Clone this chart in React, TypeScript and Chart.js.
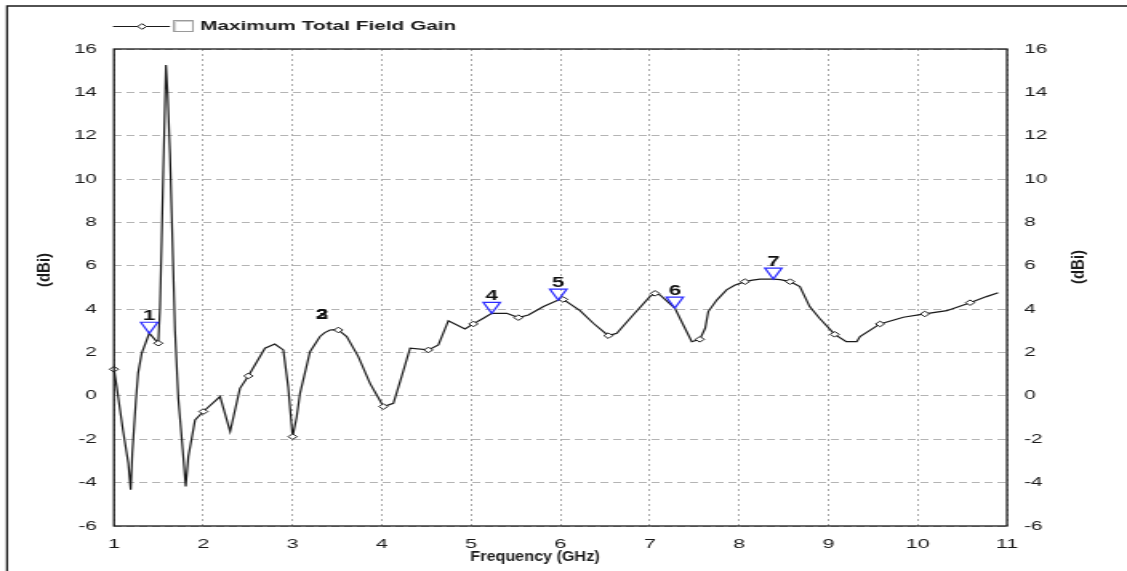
import React, { useEffect, useRef } from 'react';
import { Chart, registerables } from 'chart.js';

Chart.register(...registerables);

// ---- data ----
const freqGHz = [
  1.0, 1.03, 1.10, 1.16, 1.187, 1.205, 1.246, 1.27, 1.31, 1.395,
  1.496, 1.515, 1.534, 1.552, 1.582, 1.601, 1.627, 1.646, 1.683, 1.72,
  1.77, 1.803, 1.832, 1.907, 2.0, 2.187, 2.30, 2.41, 2.504, 2.69,
  2.80, 2.896, 2.95, 3.0, 3.046, 3.083, 3.195, 3.307, 3.36, 3.42,
  3.47, 3.512, 3.606, 3.736, 3.867, 4.016, 4.128, 4.22, 4.315, 4.52,
  4.632, 4.744, 4.93, 5.024, 5.136, 5.23, 5.398, 5.528, 5.64, 5.81,
  5.975, 6.03, 6.218, 6.367, 6.535, 6.63, 6.815, 7.0, 7.058, 7.114,
  7.28, 7.375, 7.47, 7.56, 7.62, 7.655, 7.75, 7.86, 7.95, 8.066,
  8.15, 8.234, 8.383, 8.46, 8.57, 8.68, 8.79, 8.9, 9.07, 9.2,
  9.317, 9.354, 9.578, 9.84, 10.08, 10.325, 10.586, 10.77, 10.9,
];
const gainDBi = [
  1.23, 0.43, -1.57, -3.1, -4.33, -2.64, -0.18, 1.05, 1.96, 2.89,
  2.43, 4.04, 7.19, 10.4, 15.26, 13.88, 11.19, 8.42, 3.04, -0.11,
  -2.49, -4.18, -2.8, -1.11, -0.72, -0.03, -1.64, 0.35, 0.92, 2.2,
  2.39, 2.12, 0.43, -1.88, -0.96, 0.12, 2.04, 2.74, 2.92, 3.04,
  3.06, 3.04, 2.74, 1.81, 0.58, -0.49, -0.34, 0.89, 2.2, 2.12,
  2.35, 3.47, 3.09, 3.32, 3.58, 3.81, 3.81, 3.61, 3.73, 4.12,
  4.42, 4.45, 3.93, 3.35, 2.78, 2.89, 3.74, 4.58, 4.73, 4.66,
  4.05, 3.27, 2.5, 2.61, 3.12, 3.89, 4.42, 4.89, 5.1, 5.27,
  5.34, 5.39, 5.39, 5.36, 5.27, 5.04, 4.12, 3.58, 2.84, 2.5,
  2.5, 2.74, 3.32, 3.63, 3.78, 3.93, 4.3, 4.58, 4.76,
];

const diamondFreq = [1.0, 1.496, 2.0, 2.504, 3.0, 3.512, 4.016, 4.52, 5.024, 5.528, 6.03, 6.535, 7.058, 7.56, 8.066, 8.57, 9.07, 9.578, 10.08, 10.586];
const diamondGain = [1.23, 2.43, -0.72, 0.92, -1.88, 3.04, -0.49, 2.12, 3.32, 3.61, 4.45, 2.78, 4.73, 2.61, 5.27, 5.27, 2.84, 3.32, 3.78, 4.3];

const markerLabels = ['1', '2', '3', '4', '5', '6', '7'];
const markerFreq = [1.395, 3.33, 3.33, 5.23, 5.975, 7.28, 8.383];
const markerGain = [2.89, 2.95, 2.95, 3.81, 4.42, 4.05, 5.39];
const markerShown = [true, false, false, true, true, true, true];

const seriesName = 'Maximum Total Field Gain';
const xTitle = 'Frequency (GHz)';
const yTitle = '(dBi)';
const xMin = 1, xMax = 11, xStep = 1;
const yMin = -6, yMax = 16, yStep = 2;

// ---- layout (the reference is horizontally stretched) ----
const SCREEN_W = 1127;
const H = 571;
const W = 704;
const SX = SCREEN_W / W;
const px = (sx: number) => sx / SX;
const FONT = '"Liberation Sans", Arial, sans-serif';

export default function App() {
  const ref = useRef<HTMLCanvasElement>(null);

  useEffect(() => {
    const canvas = ref.current;
    if (!canvas) return;

    const overlay = {
      id: 'overlay',
      afterDatasetsDraw(chart: any) {
        const ctx = chart.ctx;
        const xs = chart.scales.x;
        const ys = chart.scales.y;
        const meta = chart.getDatasetMeta(0);
        markerFreq.forEach((f, i) => {
          const x = xs.getPixelForValue(f);
          const y = ys.getPixelForValue(markerGain[i]);
          const hw = px(17) / 2;
          const h = 11;
          const tri = () => {
            ctx.beginPath();
            ctx.moveTo(x - hw, y - h);
            ctx.lineTo(x + hw, y - h);
            ctx.lineTo(x, y);
            ctx.closePath();
          };
          if (markerShown[i]) {
            ctx.save();
            tri();
            ctx.clip();
            ctx.beginPath();
            meta.data.forEach((p: any, j: number) => (j ? ctx.lineTo(p.x, p.y) : ctx.moveTo(p.x, p.y)));
            ctx.strokeStyle = '#e6d21e';
            ctx.setLineDash([1.5, 1.5]);
            ctx.lineWidth = 1.4;
            ctx.stroke();
            ctx.restore();
            ctx.save();
            tri();
            ctx.strokeStyle = '#2b2bff';
            ctx.lineWidth = 1.2;
            ctx.stroke();
            ctx.restore();
          }
          ctx.save();
          ctx.font = `bold 14px ${FONT}`;
          ctx.textAlign = 'center';
          ctx.textBaseline = 'alphabetic';
          ctx.fillStyle = '#111';
          ctx.fillText(markerLabels[i], x, y - 13);
          ctx.restore();
        });
      },
      afterDraw(chart: any) {
        const ctx = chart.ctx;
        const a = chart.chartArea;
        ctx.save();
        // plot frame
        ctx.strokeStyle = '#1a1a1a';
        ctx.lineWidth = 1.3;
        ctx.strokeRect(a.left, a.top, a.right - a.left, a.bottom - a.top);
        // outer frame (top and left)
        ctx.lineWidth = 1.3;
        ctx.beginPath();
        ctx.moveTo(px(7), H);
        ctx.lineTo(px(7), 6);
        ctx.lineTo(W, 6);
        ctx.stroke();

        // legend
        ctx.strokeStyle = '#1a1a1a';
        ctx.lineWidth = 1;
        ctx.beginPath();
        ctx.moveTo(px(113), 26.5);
        ctx.lineTo(px(170), 26.5);
        ctx.stroke();
        const dx = px(142), dy = 26.5, r = 2.8;
        ctx.beginPath();
        ctx.moveTo(dx - r, dy);
        ctx.lineTo(dx, dy - r);
        ctx.lineTo(dx + r, dy);
        ctx.lineTo(dx, dy + r);
        ctx.closePath();
        ctx.fillStyle = '#fff';
        ctx.fill();
        ctx.stroke();
        // checkbox
        ctx.strokeStyle = '#9a9a9a';
        ctx.strokeRect(px(173) + 0.5, 20.5, px(19), 11);
        ctx.strokeStyle = '#d0d0d0';
        ctx.beginPath();
        ctx.moveTo(px(173) + 1.5, 31);
        ctx.lineTo(px(173) + 1.5, 21.5);
        ctx.lineTo(px(192), 21.5);
        ctx.stroke();
        ctx.font = `bold 13px ${FONT}`;
        ctx.fillStyle = '#1a1a1a';
        ctx.textAlign = 'left';
        ctx.textBaseline = 'middle';
        ctx.fillText(seriesName, px(200), 26);

        // x title (narrower rendering in the reference)
        ctx.save();
        ctx.translate(px(535), 557);
        ctx.scale(0.72, 1);
        ctx.font = `bold 14px ${FONT}`;
        ctx.textAlign = 'center';
        ctx.textBaseline = 'middle';
        ctx.fillStyle = '#1a1a1a';
        ctx.fillText(xTitle, 0, 0);
        ctx.restore();

        // y titles
        const rot = (x: number, y: number) => {
          ctx.save();
          ctx.translate(x, y);
          ctx.rotate(-Math.PI / 2);
          ctx.scale(1, 0.68);
          ctx.font = `bold 15px ${FONT}`;
          ctx.textAlign = 'center';
          ctx.textBaseline = 'middle';
          ctx.fillStyle = '#1a1a1a';
          ctx.fillText(yTitle, 0, 0);
          ctx.restore();
        };
        rot(px(45), 270);
        rot(px(1079), 267);
        ctx.restore();
      },
    };

    const tickFont = { family: FONT, size: 13 };

    const chart = new Chart(canvas, {
      type: 'line',
      data: {
        datasets: [
          {
            label: seriesName,
            data: freqGHz.map((f, i) => ({ x: f, y: gainDBi[i] })),
            borderColor: '#1a1a1a',
            borderWidth: 1.2,
            pointRadius: 0,
            tension: 0,
            clip: false,
            order: 2,
            xAxisID: 'x',
            yAxisID: 'y',
          },
          {
            label: 'points',
            data: diamondFreq.map((f, i) => ({ x: f, y: diamondGain[i] })),
            showLine: false,
            pointStyle: 'rectRot',
            pointRadius: 2.8,
            pointBackgroundColor: '#ffffff',
            pointBorderColor: '#1e1e1e',
            pointBorderWidth: 1,
            clip: false,
            order: 1,
            xAxisID: 'x',
            yAxisID: 'y',
          },
        ],
      } as any,
      options: {
        responsive: false,
        animation: false,
        devicePixelRatio: 1,
        events: [],
        layout: { padding: { top: 49, left: 0, right: 0, bottom: 0 } },
        plugins: {
          legend: { display: false },
          tooltip: { enabled: false },
          title: { display: false },
        },
        scales: {
          x: {
            type: 'linear',
            position: 'bottom',
            min: xMin,
            max: xMax,
            ticks: { stepSize: xStep, font: { family: FONT, size: 13.5 }, color: '#1a1a1a', padding: 10, maxRotation: 0, autoSkip: false },
            grid: { color: '#aaaaaa', lineWidth: 1, drawTicks: false },
            border: { display: false, dash: [2, 3] },
            afterFit: (s: any) => { s.height = H - 526; },
          },
          y: {
            type: 'linear',
            position: 'left',
            min: yMin,
            max: yMax,
            ticks: { stepSize: yStep, font: tickFont, color: '#1a1a1a', padding: px(114) - px(97) },
            grid: { color: '#b4b4b4', lineWidth: 1, drawTicks: false },
            border: { display: false, dash: [5, 3] },
            afterFit: (s: any) => { s.width = px(114); },
          },
          y2: {
            type: 'linear',
            position: 'right',
            min: yMin,
            max: yMax,
            ticks: { stepSize: yStep, font: tickFont, color: '#1a1a1a', padding: px(1024) - px(1007) },
            grid: { display: false, drawTicks: false },
            border: { display: false },
            afterFit: (s: any) => { s.width = W - px(1007); },
          },
        },
      } as any,
      plugins: [overlay],
    });

    return () => chart.destroy();
  }, []);

  return (
    <div style={{ position: 'fixed', left: 0, top: 0, width: SCREEN_W, height: H, overflow: 'hidden', background: '#fff' }}>
      <div style={{ width: W, height: H, transform: `scaleX(${SX})`, transformOrigin: '0 0' }}>
        <canvas ref={ref} width={W} height={H} style={{ width: W, height: H, display: 'block' }} />
      </div>
    </div>
  );
}
